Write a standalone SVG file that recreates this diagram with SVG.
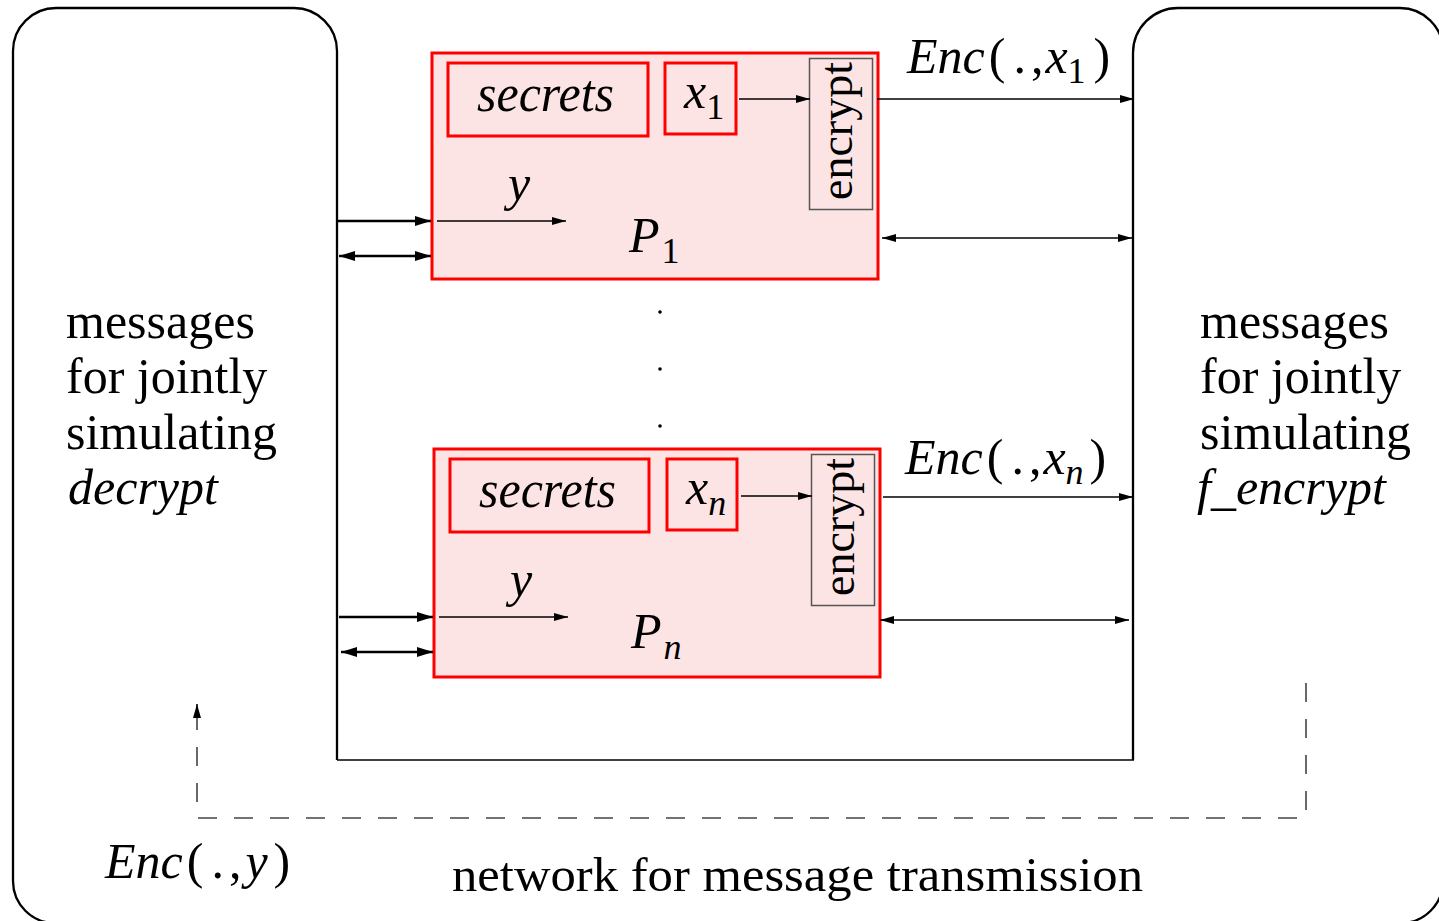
<svg xmlns="http://www.w3.org/2000/svg" width="1439" height="921" viewBox="0 0 1439 921">
<style>
text{font-family:"Liberation Serif","Times New Roman",serif;fill:#000}
.it{font-style:italic}
.party{fill:#fde4e4;stroke:#ff0000;stroke-width:3}
.inner{fill:none;stroke:#ff0000;stroke-width:3}
.enc{fill:none;stroke:#555;stroke-width:1.5}
.ln{fill:none;stroke:#000;stroke-width:1.5}
.thick{fill:none;stroke:#000;stroke-width:2.5}
.dash{fill:none;stroke:#444;stroke-width:1.6;stroke-dasharray:19 17}
</style>
<defs>
<marker id="ah" viewBox="0 0 14 8" refX="14" refY="4" markerWidth="14" markerHeight="8" orient="auto-start-reverse" markerUnits="userSpaceOnUse"><path d="M0,0 L14,4 L0,8 Z" fill="#000"/></marker>
<marker id="ahb" viewBox="0 0 16 10" refX="16" refY="5" markerWidth="16" markerHeight="10" orient="auto-start-reverse" markerUnits="userSpaceOnUse"><path d="M0,0 L16,5 L0,10 Z" fill="#000"/></marker>
</defs>

<g id="network">
<path d="M 1133 760 L 1133 53 A 45 45 0 0 1 1178 8 L 1400 8 A 43 43 0 0 1 1443 51 L 1443 881 A 42 42 0 0 1 1401 923 L 55 923 A 42 42 0 0 1 13 881 L 13 51 A 43 43 0 0 1 56 8 L 294 8 A 43 43 0 0 1 337 51 L 337 760" fill="none" stroke="#000" stroke-width="2.3"/>
<path d="M337 760 H1134" fill="none" stroke="#000" stroke-width="1.6"/>
<text x="452" y="891" font-size="48" textLength="691" lengthAdjust="spacingAndGlyphs">network for message transmission</text>
</g>

<g id="left-sim">
<text font-size="50"><tspan x="66" y="338">messages</tspan><tspan x="66" y="393">for jointly</tspan><tspan x="66" y="449">simulating</tspan><tspan x="68" y="504" class="it">decrypt</tspan></text>
</g>

<g id="right-sim">
<text font-size="50"><tspan x="1200" y="338">messages</tspan><tspan x="1200" y="393">for jointly</tspan><tspan x="1200" y="449">simulating</tspan><tspan x="1197" y="504" class="it">f_encrypt</tspan></text>
</g>

<g id="P1">
<rect class="party" x="432" y="53" width="446" height="226"/>
<rect class="inner" x="448" y="63" width="200" height="73"/>
<text x="477" y="111" font-size="52" class="it" textLength="137" lengthAdjust="spacingAndGlyphs">secrets</text>
<rect class="inner" x="665" y="63" width="71" height="71"/>
<text x="684" y="108" font-size="50"><tspan class="it">x</tspan><tspan font-size="36" dy="11">1</tspan></text>
<rect class="enc" x="809.5" y="58.5" width="63" height="151"/>
<text transform="translate(852,200) rotate(-90)" font-size="46" textLength="138" lengthAdjust="spacingAndGlyphs">encrypt</text>
<text x="508" y="200" font-size="50" class="it">y</text>
<text x="629" y="252" font-size="50"><tspan class="it">P</tspan><tspan font-size="36" dy="11" dx="2">1</tspan></text>
</g>

<g id="Pn">
<rect class="party" x="434" y="449" width="446" height="228"/>
<rect class="inner" x="450" y="459" width="199" height="73"/>
<text x="479" y="507" font-size="52" class="it" textLength="137" lengthAdjust="spacingAndGlyphs">secrets</text>
<rect class="inner" x="667" y="459" width="70" height="71"/>
<text x="686" y="504" font-size="50"><tspan class="it">x</tspan><tspan font-size="36" dy="11" class="it">n</tspan></text>
<rect class="enc" x="811.5" y="454.5" width="63" height="151"/>
<text transform="translate(854,596) rotate(-90)" font-size="46" textLength="138" lengthAdjust="spacingAndGlyphs">encrypt</text>
<text x="510" y="596" font-size="50" class="it">y</text>
<text x="631" y="648" font-size="50"><tspan class="it">P</tspan><tspan font-size="36" dy="11" dx="2" class="it">n</tspan></text>
</g>

<g id="dots" fill="#000">
<circle cx="660" cy="312" r="1.8"/>
<circle cx="660" cy="369" r="1.8"/>
<circle cx="660" cy="426" r="1.8"/>
</g>

<g id="labels">
<text x="907" y="73" font-size="50"><tspan class="it">Enc</tspan><tspan dx="4">(</tspan><tspan dx="8">.</tspan><tspan dx="5">,</tspan><tspan class="it" dx="2">x</tspan><tspan font-size="36" dy="10">1</tspan><tspan dy="-10" dx="8">)</tspan></text>
<text x="905" y="474" font-size="50"><tspan class="it">Enc</tspan><tspan dx="4">(</tspan><tspan dx="8">.</tspan><tspan dx="5">,</tspan><tspan class="it" dx="2">x</tspan><tspan font-size="36" dy="10" class="it">n</tspan><tspan dy="-10" dx="6">)</tspan></text>
<text x="105" y="878" font-size="50"><tspan class="it">Enc</tspan><tspan dx="4">(</tspan><tspan dx="8">.</tspan><tspan dx="5">,</tspan><tspan class="it" dx="4">y</tspan><tspan dx="6">)</tspan></text>
</g>

<g id="connectors">
<path class="thick" d="M337 221 H431" marker-end="url(#ahb)"/>
<path class="thick" d="M339 256 H431" marker-start="url(#ahb)" marker-end="url(#ahb)"/>
<path class="thick" d="M339 617 H433" marker-end="url(#ahb)"/>
<path class="thick" d="M341 652 H433" marker-start="url(#ahb)" marker-end="url(#ahb)"/>
<path class="ln" d="M437 221 H566" marker-end="url(#ah)"/>
<path class="ln" d="M439 617 H568" marker-end="url(#ah)"/>
<path class="ln" d="M739 99 H810" marker-end="url(#ah)"/>
<path class="ln" d="M741 496 H812" marker-end="url(#ah)"/>
<path class="ln" d="M877 99 H1134" marker-end="url(#ah)"/>
<path class="ln" d="M882 238 H1132" marker-start="url(#ah)" marker-end="url(#ah)"/>
<path class="ln" d="M883 497 H1133" marker-end="url(#ah)"/>
<path class="ln" d="M880 620 H1129" marker-start="url(#ah)" marker-end="url(#ah)"/>
<path class="dash" d="M1306 683 V818 H197 V716"/>
<path class="ln" d="M197 718 V704" marker-end="url(#ah)"/>
</g>
</svg>
